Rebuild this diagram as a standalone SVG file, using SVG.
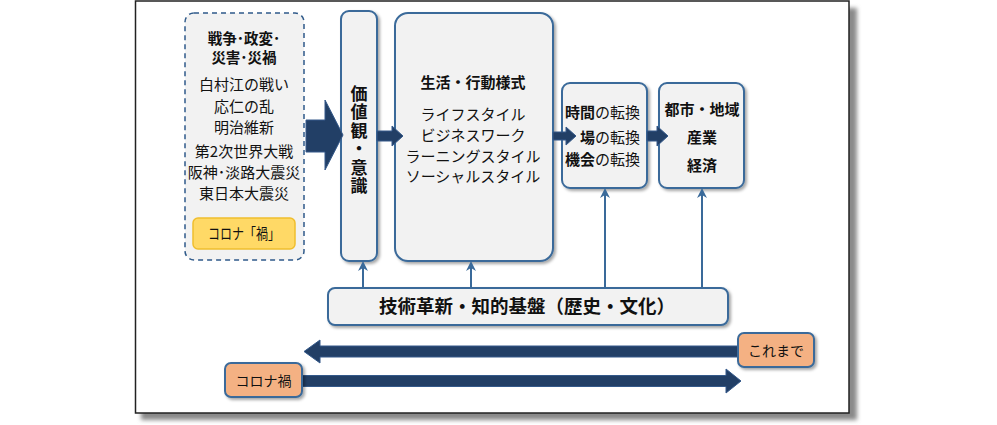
<svg xmlns="http://www.w3.org/2000/svg" width="997" height="425" viewBox="0 0 997 425">
<defs>
<filter id="sh" x="-10%" y="-10%" width="130%" height="130%">
<feDropShadow dx="2" dy="2" stdDeviation="1.5" flood-color="#000" flood-opacity="0.35"/>
</filter>
<filter id="fsh" x="-5%" y="-5%" width="115%" height="115%">
<feGaussianBlur stdDeviation="2"/>
</filter>
<marker id="up" viewBox="0 0 10 10" refX="8" refY="5" markerWidth="5" markerHeight="5" orient="auto" markerUnits="strokeWidth">
<path d="M0,0 L10,5 L0,10 L3,5 Z" fill="#3A6A9A"/>
</marker>
<style>
text{font-family:"Noto Sans CJK JP","Noto Sans",sans-serif;fill:#111;}
.t{font-size:15px;text-anchor:middle;}
.b{font-weight:bold;}
.h{font-size:14.5px;}
.box{fill:#F2F2F2;stroke:#3A6A9A;stroke-width:2;}
.ar{fill:#223F66;stroke:#34598A;stroke-width:1;}
.ln{stroke:#3A6A9A;stroke-width:2;fill:none;marker-end:url(#up);}
.or{fill:#F4B183;stroke:#3A6A9A;stroke-width:2;}
</style>
</defs>
<rect x="0" y="0" width="997" height="425" fill="#fff"/>
<!-- frame -->
<rect x="141" y="8" width="716" height="412" fill="#8a8a8a" filter="url(#fsh)"/>
<rect x="135.5" y="1" width="713.5" height="412" fill="#fff" stroke="#222" stroke-width="1.5"/>

<g id="events">
<rect x="185" y="13" width="119" height="247" rx="9" fill="#F2F2F2" stroke="#2F5A8A" stroke-width="1.5" stroke-dasharray="5,4"/>
<text class="t b h" x="244" y="44">戦争･政変･</text>
<text class="t b h" x="244" y="63">災害･災禍</text>
<text class="t" x="244" y="90">白村江の戦い</text>
<text class="t" x="244" y="112">応仁の乱</text>
<text class="t" x="244" y="133">明治維新</text>
<text class="t" x="244" y="157">第2次世界大戦</text>
<text class="t" x="244" y="178">阪神･淡路大震災</text>
<text class="t" x="244" y="199">東日本大震災</text>
</g>
<g id="corona-ka">
<rect x="193" y="218" width="102" height="31" rx="5" fill="#FFD966" stroke="#F0BE2E" stroke-width="1.5"/>
<text class="t" x="244" y="239" textLength="72" lengthAdjust="spacingAndGlyphs">コロナ「禍」</text>
</g>

<g id="values">
<rect class="box" x="341" y="11" width="36" height="250" rx="8" filter="url(#sh)"/>
<text class="b" x="359" y="85" style="writing-mode:vertical-rl;font-size:17px;letter-spacing:1.5px">価値観・意識</text>
</g>

<g id="lifestyle">
<rect class="box" x="395" y="13" width="158" height="248" rx="13" filter="url(#sh)"/>
<text class="t b" x="473" y="88">生活・行動様式</text>
<text class="t" x="473" y="120">ライフスタイル</text>
<text class="t" x="473" y="141">ビジネスワーク</text>
<text class="t" x="473" y="162">ラーニングスタイル</text>
<text class="t" x="473" y="182">ソーシャルスタイル</text>
</g>

<g id="shift">
<rect class="box" x="562" y="83" width="85" height="105" rx="8" filter="url(#sh)"/>
<text class="t" x="640" y="118" style="text-anchor:end"><tspan class="b">時間</tspan>の転換</text>
<text class="t" x="640" y="143" style="text-anchor:end"><tspan class="b">場</tspan>の転換</text>
<text class="t" x="640" y="165" style="text-anchor:end"><tspan class="b">機会</tspan>の転換</text>
</g>

<g id="society">
<rect class="box" x="659" y="83" width="85" height="105" rx="8" filter="url(#sh)"/>
<text class="t b" x="702" y="115">都市・地域</text>
<text class="t b" x="702" y="143">産業</text>
<text class="t b" x="702" y="171">経済</text>
</g>

<g id="tech">
<rect class="box" x="328" y="288" width="400" height="37" rx="7" filter="url(#sh)"/>
<text class="b" x="527" y="313" style="font-size:18.5px;text-anchor:middle">技術革新・知的基盤（歴史・文化）</text>
</g>

<g id="connectors">
<path class="ar" d="M306,120 L325,120 L325,100 L343,135 L325,170 L325,152 L306,152 Z"/>
<path class="ar" d="M377,131 L392,131 L392,126 L403,136 L392,146 L392,141 L377,141 Z"/>
<path class="ar" d="M553,132 L566,132 L566,127 L576,136 L566,145 L566,140 L553,140 Z"/>
<path class="ar" d="M647,131 L657,131 L657,126 L668,136 L657,146 L657,141 L647,141 Z"/>
<line class="ln" x1="363" y1="288" x2="363" y2="263"/>
<line class="ln" x1="471" y1="288" x2="471" y2="263"/>
<line class="ln" x1="605" y1="288" x2="605" y2="190"/>
<line class="ln" x1="702" y1="288" x2="702" y2="190"/>
<path class="ar" d="M740,346 L320,346 L320,340 L304,351.5 L320,363 L320,357 L740,357 Z"/>
<path class="ar" d="M300,375.5 L726,375.5 L726,369 L741,381 L726,393 L726,386.5 L300,386.5 Z"/>
</g>

<g id="koremade">
<rect class="or" x="738" y="333" width="76" height="34" rx="6" filter="url(#sh)"/>
<text x="776" y="356" style="font-size:14px;text-anchor:middle">これまで</text>
</g>
<g id="corona">
<rect class="or" x="225" y="363" width="77" height="34" rx="6" filter="url(#sh)"/>
<text x="263.5" y="386" style="font-size:14px;text-anchor:middle">コロナ禍</text>
</g>
</svg>
